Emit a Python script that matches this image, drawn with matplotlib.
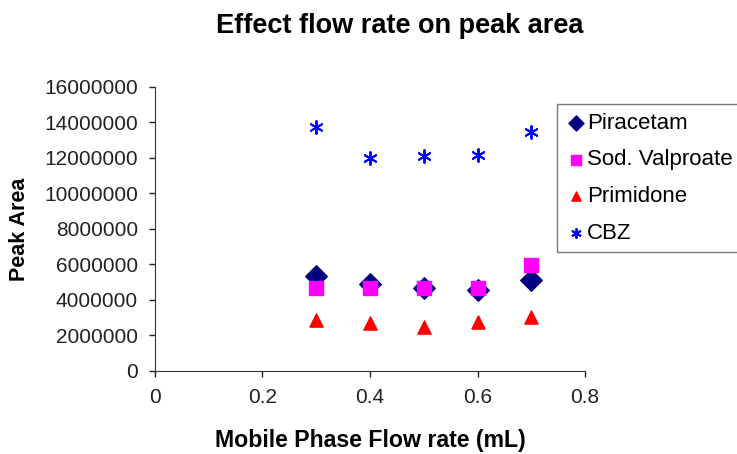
import matplotlib.pyplot as plt
import numpy as np

plt.rcParams['font.family'] = ['Liberation Sans', 'DejaVu Sans']

flow = [0.3, 0.4, 0.5, 0.6, 0.7]
piracetam = [5330000, 4910000, 4670000, 4570000, 5140000]
valproate = [4670000, 4670000, 4670000, 4670000, 5950000]
primidone = [2870000, 2680000, 2490000, 2780000, 3060000]
cbz = [13730000, 11980000, 12090000, 12160000, 13450000]

fig = plt.figure(figsize=(7.37, 4.54), dpi=100)
ax = fig.add_axes([0.21, 0.183, 0.584, 0.626])

ax.scatter(flow, piracetam, marker='D', s=120, color='#000080', label='Piracetam', zorder=3)
ax.scatter(flow, valproate, marker='s', s=90, color='#ff00ff', label='Sod. Valproate', zorder=4)
ax.scatter(flow, primidone, marker='^', s=90, color='#ff0000', label='Primidone', zorder=3)
ax.scatter(flow, cbz, marker=(6, 2, 0), s=85, color='#0000ff', linewidths=1.4, label='CBZ', zorder=3)

ax.set_xlim(0, 0.8)
ax.set_ylim(0, 16000000)
ax.set_xticks(np.arange(0, 0.81, 0.2))
ax.set_xticklabels(['0', '0.2', '0.4', '0.6', '0.8'])
ax.set_yticks(np.arange(0, 16000001, 2000000))
ax.set_yticklabels([str(v) for v in range(0, 16000001, 2000000)])
ax.tick_params(labelsize=15, direction='out', length=4, width=1, colors='#222222')
ax.tick_params(axis='x', pad=8)
ax.tick_params(axis='y', pad=8)
ax.spines['top'].set_visible(False)
ax.spines['right'].set_visible(False)
ax.spines['left'].set_color('#333333')
ax.spines['bottom'].set_color('#333333')

ax.set_xlabel('Mobile Phase Flow rate (mL)', fontsize=16.7, fontweight='bold', labelpad=16)
ax.set_ylabel('Peak Area', fontsize=15.5, fontweight='bold', labelpad=10)
fig.text(0.542, 0.927, 'Effect flow rate on peak area', fontsize=19.5, fontweight='bold',
         ha='center', va='baseline')

leg = fig.legend(loc='upper left', bbox_to_anchor=(0.756, 0.771), fontsize=16,
                 frameon=True, fancybox=False, edgecolor='#555555', handletextpad=0.05,
                 borderpad=0.4, labelspacing=0.7, handlelength=0.9, scatterpoints=1,
                 borderaxespad=0, markerscale=0.7)
leg.get_frame().set_linewidth(1)

fig.savefig('out.png', dpi=100)
